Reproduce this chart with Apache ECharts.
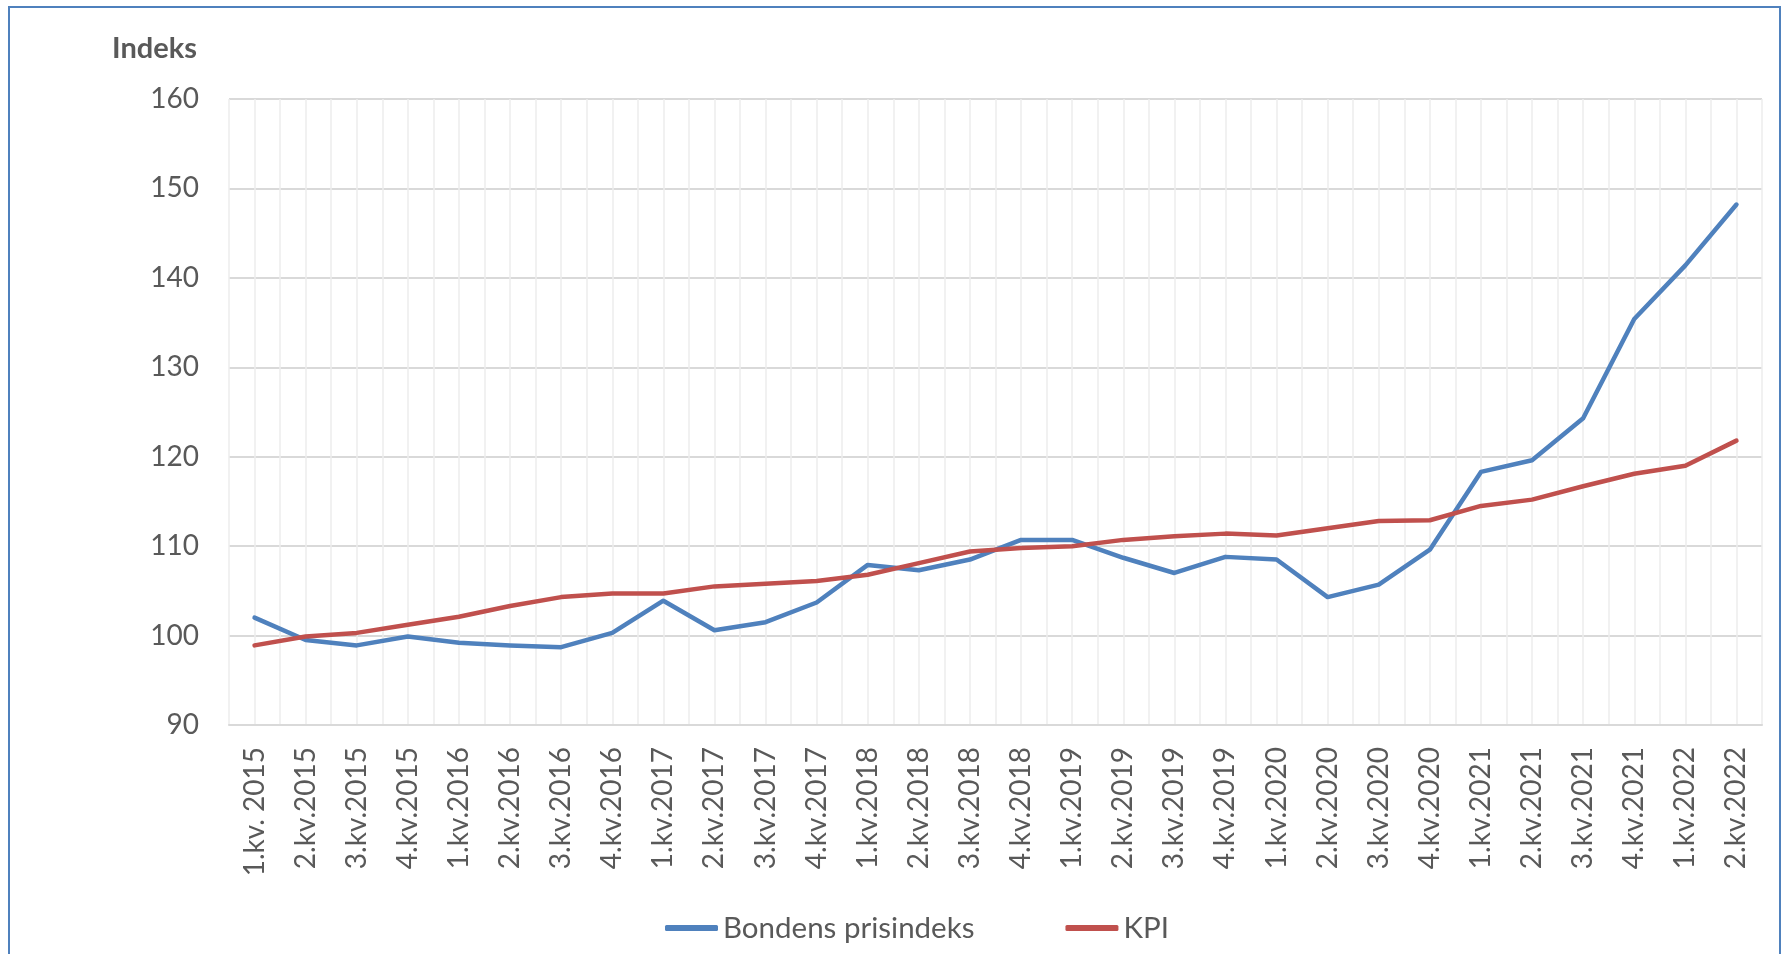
<!DOCTYPE html>
<html><head><meta charset="utf-8">
<script src="https://cdn.jsdelivr.net/npm/echarts@6/dist/echarts.min.js"></script>
<style>html,body{margin:0;padding:0;background:#fff}#c{width:1785px;height:954px}</style>
</head><body><div id="c"></div>
<script>
const categories = ["1.kv. 2015","2.kv.2015","3.kv.2015","4.kv.2015","1.kv.2016","2.kv.2016","3.kv.2016","4.kv.2016","1.kv.2017","2.kv.2017","3.kv.2017","4.kv.2017","1.kv.2018","2.kv.2018","3.kv.2018","4.kv.2018","1.kv.2019","2.kv.2019","3.kv.2019","4.kv.2019","1.kv.2020","2.kv.2020","3.kv.2020","4.kv.2020","1.kv.2021","2.kv.2021","3.kv.2021","4.kv.2021","1.kv.2022","2.kv.2022"];
const bondensPrisindeks = [102.0,99.5,98.9,99.9,99.2,98.9,98.7,100.3,103.9,100.6,101.5,103.7,107.9,107.3,108.5,110.7,110.7,108.7,107.0,108.8,108.5,104.3,105.7,109.6,118.3,119.6,124.3,135.4,141.4,148.2];
const kpi = [98.9,99.9,100.3,101.2,102.1,103.3,104.3,104.7,104.7,105.5,105.8,106.1,106.8,108.1,109.4,109.8,110.0,110.7,111.1,111.4,111.2,112.0,112.8,112.9,114.5,115.2,116.7,118.1,119.0,121.8];
const yTicks = {min: 90, max: 160, interval: 10};
const seriesNames = ["Bondens prisindeks", "KPI"];

const FONT = 'Lato';
const chart = echarts.init(document.getElementById('c'));
chart.setOption({
  animation: false,
  textStyle: {fontFamily: FONT},
  grid: {left: 229, right: 23, top: 99, bottom: 229, containLabel: false},
  graphic: [
    {type: 'rect', shape: {x: 9, y: 7, width: 1771, height: 1000}, style: {fill: 'none', stroke: '#4f81bd', lineWidth: 2}, silent: true, z: 100},
    {type: 'text', x: 112, y: 49, style: {text: 'Indeks', fontFamily: FONT, fontWeight: 'bold', fontSize: 29, fill: '#595959', textVerticalAlign: 'middle'}}
  ],
  legend: {
    data: seriesNames,
    left: 660, top: 908,
    icon: 'roundRect', itemWidth: 53, itemHeight: 6, itemGap: 91,
    textStyle: {fontFamily: FONT, fontSize: 29.5, color: '#595959'}
  },
  xAxis: [
    {type: 'category', data: categories, boundaryGap: true,
     axisLine: {lineStyle: {color: '#d9d9d9', width: 2}}, axisTick: {show: false},
     axisLabel: {rotate: 90, interval: 0, margin: 22, color: '#595959', fontSize: 28, fontFamily: FONT},
     splitLine: {show: false}},
    {type: 'value', min: -0.5, max: 29.5, interval: 0.5, position: 'bottom', show: true,
     axisLine: {show: false}, axisTick: {show: false}, axisLabel: {show: false},
     splitLine: {show: true, lineStyle: {color: '#ececec', width: 1.5}}}
  ],
  yAxis: {type: 'value', min: yTicks.min, max: yTicks.max, interval: yTicks.interval,
    axisLine: {show: false}, axisTick: {show: false},
    axisLabel: {margin: 30, color: '#595959', fontSize: 28, fontFamily: FONT},
    splitLine: {lineStyle: {color: '#d9d9d9', width: 2}}},
  series: [
    {name: seriesNames[0], type: 'line', data: bondensPrisindeks, xAxisIndex: 0, symbol: 'none',
     lineStyle: {color: '#4f81bd', width: 4.5, cap: 'round', join: 'round'}, itemStyle: {color: '#4f81bd'}, z: 3},
    {name: seriesNames[1], type: 'line', data: kpi, xAxisIndex: 0, symbol: 'none',
     lineStyle: {color: '#c0504d', width: 4.5, cap: 'round', join: 'round'}, itemStyle: {color: '#c0504d'}, z: 4}
  ]
});
</script></body></html>
